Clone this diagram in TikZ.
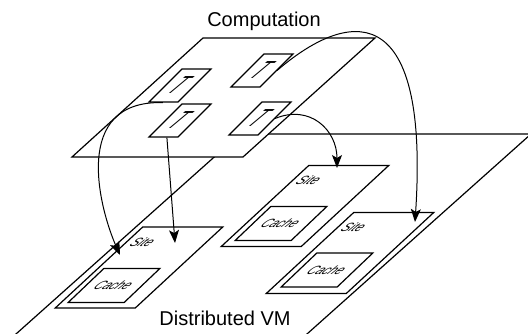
\documentclass[tikz,border=0pt]{standalone}
\usepackage{fontspec}
\setmainfont{Liberation Sans}
\usetikzlibrary{arrows.meta}

\begin{document}
\begin{tikzpicture}
[x=1pt,y=-1pt,
  planedecorate/.style={draw,fill=white,line width=1.2pt},
  tiledecorate/.style={draw,fill=white,line width=1.2pt,inner sep=0pt,minimum width=29pt,minimum height=33pt,xslant=1},
  tdecorate/.style={font=\fontsize{17}{17}\selectfont,inner sep=0pt,xslant=1.2,yscale=1.45},
  sitedecorate/.style={draw,fill=white,line width=1.2pt,inner sep=0pt,minimum width=80pt,minimum height=81pt,xslant=1.08},
  cachedecorate/.style={draw,fill=white,line width=1.2pt,inner sep=0pt,minimum width=56pt,minimum height=34pt,xslant=1.05,font=\fontsize{12}{12}\selectfont\itshape},
  sitetext/.style={font=\fontsize{12}{12}\selectfont\itshape,inner sep=0pt,xslant=1},
  titledecorate/.style={font=\fontsize{20}{24}\selectfont,anchor=base,inner sep=0pt},
  flowdecorate/.style={-{Stealth[length=13pt,width=10pt,inset=3pt]},line width=1pt}]
\useasboundingbox (0,0) rectangle (528,334);
\clip (0,0) rectangle (528,334);
% lower plane with the sites
\draw[planedecorate] (240,134) -- (531,134) -- (251,384) -- (-40,384) -- cycle;
\node (s1) at (139,267.5) [sitedecorate] {};
\node (s2) at (305,206) [sitedecorate] {};
\node (s3) at (350,253) [sitedecorate] {};
\node (c1) at (114,285.5) [cachedecorate] {Cache};
\node (c2) at (281,223.5) [cachedecorate] {Cache};
\node (c3) at (327,270) [cachedecorate] {Cache};
\node (s1lbl) at (143,242) [sitetext] {Site};
\node (s2lbl) at (309,180) [sitetext] {Site};
\node (s3lbl) at (354,227) [sitetext] {Site};
\node (vm) at (225,325) [titledecorate] {Distributed VM};
% upper plane with the threads
\draw[planedecorate] (72,157) -- (243,157) -- (375,38) -- (203,38) -- cycle;
\node (t1) at (180,85.5) [tiledecorate] {};
\node (t2) at (262,70.5) [tiledecorate] {};
\node (t3) at (180,120.5) [tiledecorate] {};
\node (t4) at (260,118.5) [tiledecorate] {};
\foreach \t in {t1,t2,t3,t4}
  \node (\t lbl) at (\t) [tdecorate] {T};
\node (comp) at (264,27) [titledecorate] {Computation};
% arrows
\coordinate (s1left) at (120,255);
\coordinate (s1top) at (175,243);
\coordinate (s2top) at (337,168);
\coordinate (s3top) at (415,222);
\draw[flowdecorate] (t1.south) .. controls (70,100) and (100,210) .. (s1left);
\draw[flowdecorate] ([xshift=4pt]t3.south) -- (s1top);
\draw[flowdecorate] (t4.east) .. controls (310,104) and (337,130) .. (s2top);
\draw[flowdecorate] (t2.east) .. controls (345,12) and (430,-8) .. (s3top);
\end{tikzpicture}
\end{document}
